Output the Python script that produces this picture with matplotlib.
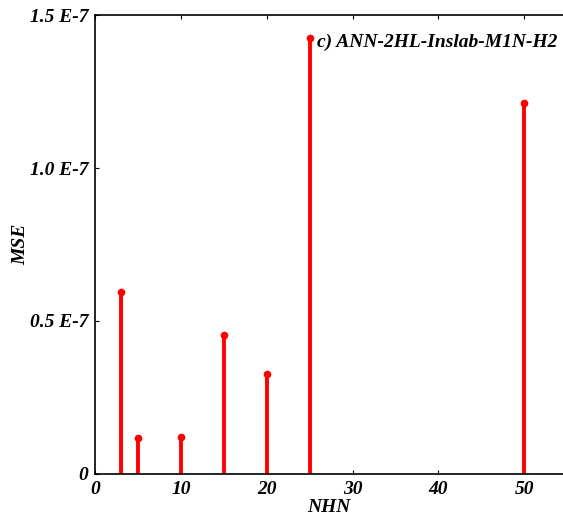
import numpy as np
from matplotlib import pyplot as plt

nhn = [3, 5, 10, 15, 20, 25, 50]
mse = [0.595e-7, 0.118e-7, 0.121e-7, 0.454e-7, 0.327e-7, 1.425e-7, 1.212e-7]
yticks = [0, 0.5e-7, 1.0e-7, 1.5e-7]
ytick_labels = ['0', '0.5 E-7', '1.0 E-7', '1.5 E-7']
xticks = [0, 10, 20, 30, 40, 50]

plt.rcParams['font.family'] = ['Liberation Serif', 'DejaVu Serif']
fnt = dict(fontweight='bold', fontstyle='italic', fontsize=14)

fig = plt.figure(figsize=(5.63, 5.23), dpi=100)
ax = fig.add_axes([0.1687, 0.0937, 1.0 - 0.1687, 0.9713 - 0.0937])

ml, sl, bl = ax.stem(nhn, mse, linefmt='r-', markerfmt='ro', basefmt=' ')
plt.setp(sl, linewidth=2.8)
plt.setp(ml, markersize=4.5)

ax.set_xlim(0, 54.5)
ax.set_ylim(0, 1.5e-7)
ax.set_xticks(xticks)
ax.set_xticklabels([str(v) for v in xticks], **fnt)
ax.set_yticks(yticks)
ax.set_yticklabels(ytick_labels, **fnt)
ax.tick_params(direction='in', length=3, top=True, right=False, pad=5)
ax.spines['right'].set_visible(False)
for s in ['left', 'bottom', 'top']:
    ax.spines[s].set_linewidth(1.2)

ax.set_xlabel('NHN', labelpad=1, **fnt)
ax.set_ylabel('MSE', labelpad=0, **fnt)
ax.text(25.8, 1.41e-7, 'c) ANN-2HL-Inslab-M1N-H2', ha='left', va='center', **fnt)

plt.savefig('out.png', dpi=100)
